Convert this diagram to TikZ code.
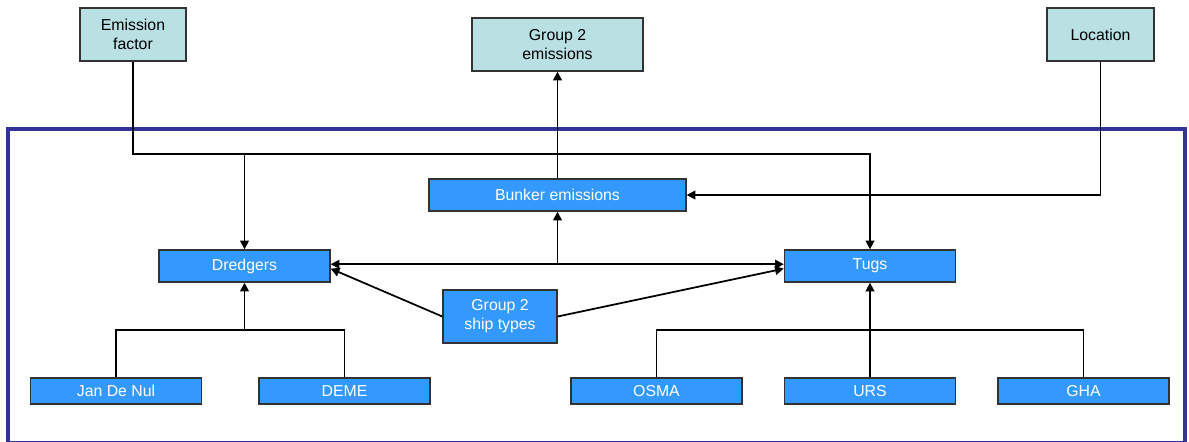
\documentclass[tikz,border=0pt]{standalone}
\usepackage{fontspec}
\setmainfont{Liberation Sans}
\usepackage{xcolor}
\usepackage{tikz}
\usetikzlibrary{positioning,arrows.meta}
\definecolor{framecol}{RGB}{51,51,153}
\definecolor{inputcol}{RGB}{185,224,227}
\definecolor{shipcol}{RGB}{51,153,255}
\tikzset{
  every overlay node/.style={}
}

\begin{document}
\begin{tikzpicture}[x=0.02cm, y=-0.02cm,
		font=\fontsize{9}{10.8}\selectfont,
		input/.style = {rectangle, draw=black!80, line width=0.8pt, fill=inputcol, text=black, align=center, inner sep=0pt, minimum height=1.06cm},
		ship/.style = {rectangle, draw=black!80, line width=0.8pt, fill=shipcol, text=white, align=center, inner sep=0pt, minimum width=3.42cm, minimum height=0.64cm},
		company/.style = {ship, minimum height=0.52cm},
		link/.style = {line width=1pt, draw=black},
		arr/.style = {link, -{Triangle[length=5pt,width=5pt]}},
		arrs/.style = {link, {Triangle[length=5pt,width=5pt]}-{Triangle[length=5pt,width=5pt]}}]
			\useasboundingbox (0,0) rectangle (1189,442);
			\draw[line width=2.3pt, draw=framecol] (8,129) rectangle (1185,443);
			
			\node[input, minimum width=2.12cm] (ef) at (133, 34.5) {Emission\\factor};
			\node[input, minimum width=3.42cm] (g2e) at (557.5, 44.5) {Group 2\\emissions};
			\node[input, minimum width=2.14cm] (loc) at (1100.5, 34.5) {Location};
			
			\node[ship, minimum width=5.14cm] (bunk) at (557.5, 195) {Bunker emissions};
			\node[ship] (dredg) at (244.5, 266) {Dredgers};
			\node[ship] (tugs) at (870, 266) {Tugs};
			\node[ship, minimum width=2.28cm, minimum height=1.06cm] (types) at (500, 316.5) {Group 2\\ship types};
			
			\node[company] (jdn) at (116, 391) {Jan De Nul};
			\node[company] (deme) at (344.5, 391) {DEME};
			\node[company] (osma) at (656.5, 391) {OSMA};
			\node[company] (urs) at (870, 391) {URS};
			\node[company] (gha) at (1083.5, 391) {GHA};
			
			\coordinate (topbus) at (0, 154);
			\coordinate (lowbus) at (0, 330);
			
			\draw[arr] (ef.south) -- (ef.south |- topbus) -| (tugs.north);
			\draw[arr] (dredg.north |- topbus) -- (dredg.north);
			\draw[arr] (loc.south) |- (bunk.east);
			\draw[arr] (bunk.north) -- (g2e.south);
			\draw[arrs] ([yshift=1pt]dredg.east) -- ([yshift=1pt]tugs.west);
			\draw[arr] ([yshift=1pt]dredg.east -| bunk.south) -- (bunk.south);
			\draw[arr] (types.west) -- ([yshift=-1.5pt]dredg.east);
			\draw[arr] (types.east) -- ([yshift=-1.5pt]tugs.west);
			
			\draw[link] (jdn.north) -- (jdn.north |- lowbus) -- (deme.north |- lowbus) -- (deme.north);
			\draw[arr] (dredg.south |- lowbus) -- (dredg.south);
			\draw[link] (osma.north) -- (osma.north |- lowbus) -- (gha.north |- lowbus) -- (gha.north);
			\draw[arr] (urs.north) -- (tugs.south);
		\end{tikzpicture}
\end{document}
